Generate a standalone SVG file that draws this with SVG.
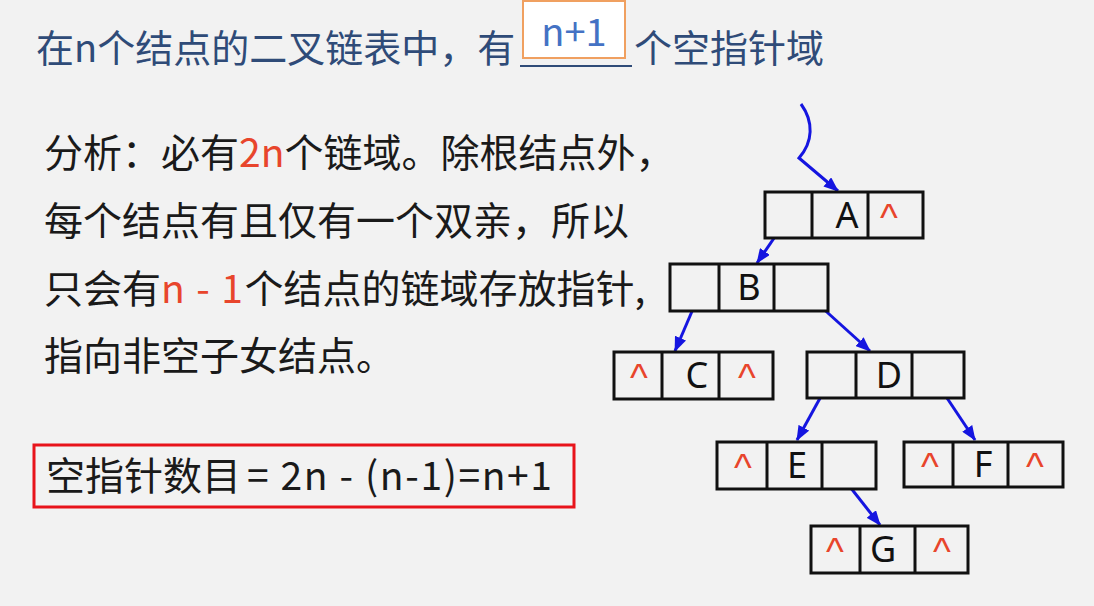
<svg xmlns="http://www.w3.org/2000/svg" width="1094" height="606" viewBox="0 0 1094 606">
<style>
.bg{fill:#F2F2F2}
.title{font-family:"Noto Sans CJK SC","Noto Sans",sans-serif;font-size:38px;fill:#2F4B78}
.body{font-family:"Noto Sans CJK SC","Noto Sans",sans-serif;font-size:39px;fill:#1A1A1A}
.red{fill:#E8452C}
.cell{fill:#F2F2F2;stroke:#111;stroke-width:3}
.div{stroke:#111;stroke-width:3}
.lbl{font-family:"Noto Sans","Liberation Sans",sans-serif;font-size:36px;fill:#111;text-anchor:middle}
.nul{font-family:"Liberation Sans",sans-serif;font-size:38px;fill:#E8452C;text-anchor:middle}
.conn{fill:none;stroke:#1515E0;stroke-width:3;marker-end:url(#ah)}
</style>
<defs>
<marker id="ah" markerUnits="userSpaceOnUse" markerWidth="15" markerHeight="12" refX="14" refY="6" orient="auto">
<path d="M0,0 L15,6 L0,12 Z" fill="#1515E0"/>
</marker>
</defs>
<rect class="bg" x="0" y="0" width="1094" height="606"/>

<g id="title">
<text class="title" x="36" y="62">在n个结点的二叉链表中，有</text>
<line x1="520" y1="66" x2="632" y2="66" stroke="#2F4B78" stroke-width="2"/>
<rect x="523" y="1" width="102" height="57" fill="#FFFFFF" stroke="#F0A060" stroke-width="2"/>
<text x="574" y="46" font-family="'Noto Sans CJK SC','Noto Sans',sans-serif" font-size="38" fill="#4472C4" text-anchor="middle">n+1</text>
<text class="title" x="634" y="62">个空指针域</text>
</g>

<g id="analysis">
<text class="body" x="44" y="167">分析：必有<tspan class="red">2n</tspan>个链域。除根结点外，</text>
<text class="body" x="44" y="235">每个结点有且仅有一个双亲，所以</text>
<text class="body" x="44" y="303">只会有<tspan class="red" textLength="82" lengthAdjust="spacing">n - 1</tspan>个结点的链域存放指针,</text>
<text class="body" x="44" y="370">指向非空子女结点。</text>
</g>

<g id="formula">
<rect x="34" y="445" width="540" height="62" fill="none" stroke="#E8141B" stroke-width="3"/>
<text class="body" x="46" y="490" font-size="37">空指针数目</text>
<text class="body" x="247" y="490" font-size="38" textLength="305" lengthAdjust="spacing">= 2n - (n-1)=n+1</text>
</g>

<g id="connectors">
<path class="conn" d="M801,104 C814,122 813,142 799,158 L838,191"/>
<path class="conn" d="M783,225 L757,263"/>
<path class="conn" d="M696,302 L675,351"/>
<path class="conn" d="M808,295 L870,351"/>
<path class="conn" d="M830,380 L797,440"/>
<path class="conn" d="M935,380 L975,440"/>
<path class="conn" d="M843,478 L880,525"/>
</g>

<g id="nodeA">
<rect class="cell" x="765" y="192" width="158" height="46"/>
<line class="div" x1="812" y1="192" x2="812" y2="238"/>
<line class="div" x1="868" y1="192" x2="868" y2="238"/>
<text class="lbl" x="847" y="228">A</text>
<text class="nul" x="889" y="231">^</text>
</g>

<g id="nodeB">
<rect class="cell" x="670" y="264" width="158" height="47"/>
<line class="div" x1="719" y1="264" x2="719" y2="311"/>
<line class="div" x1="774" y1="264" x2="774" y2="311"/>
<text class="lbl" x="749" y="300">B</text>
</g>

<g id="nodeC">
<rect class="cell" x="614" y="352" width="159" height="47"/>
<line class="div" x1="662" y1="352" x2="662" y2="399"/>
<line class="div" x1="719" y1="352" x2="719" y2="399"/>
<text class="lbl" x="697" y="388">C</text>
<text class="nul" x="639" y="391">^</text>
<text class="nul" x="747" y="391">^</text>
</g>

<g id="nodeD">
<rect class="cell" x="807" y="352" width="157" height="46"/>
<line class="div" x1="856" y1="352" x2="856" y2="398"/>
<line class="div" x1="912" y1="352" x2="912" y2="398"/>
<text class="lbl" x="889" y="388">D</text>
</g>

<g id="nodeE">
<rect class="cell" x="717" y="442" width="159" height="47"/>
<line class="div" x1="767" y1="442" x2="767" y2="489"/>
<line class="div" x1="822" y1="442" x2="822" y2="489"/>
<text class="lbl" x="797" y="478">E</text>
<text class="nul" x="743" y="481">^</text>
</g>

<g id="nodeF">
<rect class="cell" x="904" y="442" width="159" height="45"/>
<line class="div" x1="953" y1="442" x2="953" y2="487"/>
<line class="div" x1="1008" y1="442" x2="1008" y2="487"/>
<text class="lbl" x="983" y="477">F</text>
<text class="nul" x="930" y="480">^</text>
<text class="nul" x="1035" y="480">^</text>
</g>

<g id="nodeG">
<rect class="cell" x="811" y="526" width="157" height="47"/>
<line class="div" x1="860" y1="526" x2="860" y2="573"/>
<line class="div" x1="915" y1="526" x2="915" y2="573"/>
<text class="lbl" x="883" y="562">G</text>
<text class="nul" x="835" y="565">^</text>
<text class="nul" x="942" y="565">^</text>
</g>
</svg>
